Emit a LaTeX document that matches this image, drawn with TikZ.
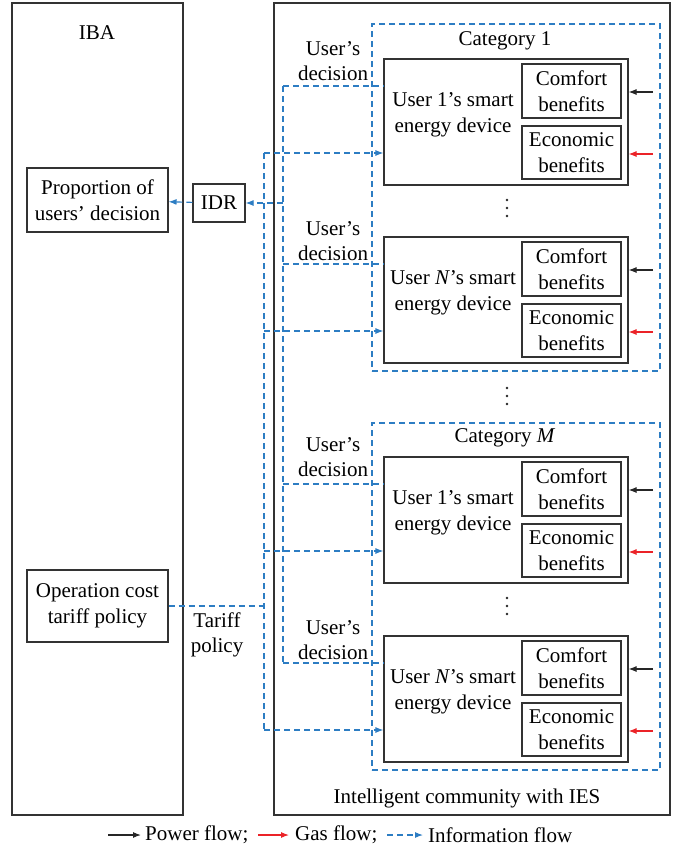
\documentclass[tikz,border=0pt]{standalone}
\usepackage{fontspec}
\setmainfont{Liberation Serif}
\usetikzlibrary{arrows.meta}
\usetikzlibrary{positioning}

\definecolor{infoblue}{RGB}{45,125,195}
\definecolor{gasred}{RGB}{235,35,40}

\tikzset{
    box/.style={draw=black!80, line width=1.1pt, align=center, inner sep=0pt},
    userbox/.style={box, minimum width=244pt, minimum height=126pt},
    benefitbox/.style={box, minimum width=99pt, minimum height=53pt},
    catbox/.style={draw=infoblue, line width=1.1pt, dash pattern=on 6pt off 4pt, minimum width=288pt, inner sep=0pt},
    info/.style={draw=infoblue, line width=1.1pt, dash pattern=on 6pt off 4pt},
    tip/.style={-{Latex[length=8pt,width=6pt]}},
    power/.style={black!85, line width=1.1pt, tip},
    gas/.style={gasred, line width=1.1pt, tip},
    lbl/.style={align=center, inner sep=0pt}
}

\begin{document}
\begin{tikzpicture}[x=1pt, y=-1pt, font=\fontsize{21}{25.5}\selectfont]
    \useasboundingbox (0,0) rectangle (684,852);

    % two sides
    \node[box, minimum width=171pt, minimum height=812pt] (iba) at (97.5,409) {};
    \node[box, minimum width=396pt, minimum height=812pt] (ies) at (472,409) {};
    \node[lbl] at (97,33) {IBA};
    \node[lbl] at (467,798) {Intelligent community with IES};

    % IBA side
    \node[box, minimum width=141pt, minimum height=64pt] (prop) at (97.5,200) {Proportion of\\users' decision};
    \node[box, minimum width=141pt, minimum height=72pt] (op) at (97.5,606) {Operation cost\\tariff policy};
    \node[box, minimum width=52pt, minimum height=38pt] (idr) at (219,203) {IDR};
    \node[lbl] at (217,635) {Tariff\\policy};

    % categories
    \node[catbox, minimum height=347pt] (cat1) at (516,197.5) {};
    \node[catbox, minimum height=347pt] (catm) at (516,596.5) {};
    \node[lbl] at (505,41) {Category 1};
    \node[lbl] at (505,438) {Category \textit{M}};
    \foreach \y in {208,396,606}
        \foreach \d in {-8,0,8}
            \fill[black!85] (507,\y+\d) circle (1.3pt);

    % users
    \foreach \t/\n/\who/\dy in {59/a/1/2, 237/b/\textit{N}/4, 457/c/1/0, 636/d/\textit{N}/4} {
        \node[userbox] (u\n) at (506,\t+63) {};
        \node[lbl] at (453,\t+56) {User \who's smart\\energy device};
        \node[benefitbox, minimum height=54pt] (com\n) at (571.5,\t+32) {Comfort\\benefits};
        \node[benefitbox] (eco\n) at (571.5,\t+93.5) {Economic\\benefits};
        \node[lbl] at (333,\t+\dy) {User's\\decision};
        \coordinate (pw\n) at (653,\t+33);
        \coordinate (gs\n) at (653,\t+95);
        \coordinate (dec\n) at (283,\t+27);
        \coordinate (tar\n) at (264,\t+94);
        \draw[power] (pw\n) -- (pw\n -| u\n.east);
        \draw[gas] (gs\n) -- (gs\n -| u\n.east);
        \draw[info] (dec\n) -- (dec\n -| u\n.west);
        \draw[info, tip] (tar\n) -- (tar\n -| u\n.west);
    }

    % information buses
    \draw[info] (deca) -- (decd);
    \draw[info] (tara) -- (tard);
    \draw[info, tip] (deca |- idr) -- (idr);
    \draw[info, tip] (idr) -- (prop);
    \draw[info] (op) -- (op -| tara);

    % legend
    \node[lbl, anchor=west] (lgpow) at (145,835) {Power flow;};
    \node[lbl, anchor=west] (lggas) at (295,835) {Gas flow;};
    \node[lbl, anchor=west] (lginf) at (428,835) {Information flow};
    \coordinate (lg1) at (108,835);
    \coordinate (lg2) at (258,835);
    \coordinate (lg3) at (387,835);
    \draw[power] (lg1) -- ([xshift=-4pt]lgpow.west);
    \draw[gas] (lg2) -- ([xshift=-6pt]lggas.west);
    \draw[info, tip] (lg3) -- ([xshift=-5pt]lginf.west);
\end{tikzpicture}
\end{document}
